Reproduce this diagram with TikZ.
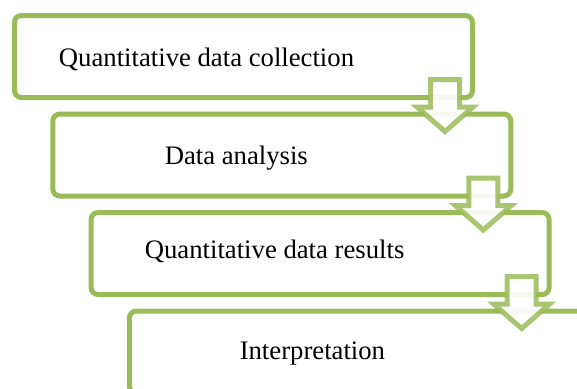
\documentclass[tikz,border=0pt]{standalone}
\usepackage{fontspec}
\setmainfont{Liberation Serif}
\usetikzlibrary{calc}
\definecolor{boxgreen}{RGB}{155, 187, 89}

\begin{document}
\begin{tikzpicture}[x=1pt, y=-1pt,
    stepbox/.style={draw=boxgreen, line width=5pt, rounded corners=7pt, minimum width=458pt, minimum height=82pt, inner sep=0pt, outer sep=0pt, anchor=north west},
    steptext/.style={anchor=base, inner sep=0pt, font=\fontsize{26.7}{30}\selectfont},
    downarrow/.style={draw=boxgreen, draw opacity=0.85, fill=white, fill opacity=0.92, line width=5pt}]
    \useasboundingbox (0,0) rectangle (577,388);
    \clip (0,0) rectangle (577,388);

    \node[stepbox] (collect) at (14.5,15.5) {};
    \node[stepbox] (analysis) at (52.8,114) {};
    \node[stepbox] (results) at (91.1,212.5) {};
    \node[stepbox] (interp) at (129.4,311) {};

    \node[steptext] (collecttext) at ([shift={(-37,51)}]collect.north) {Quantitative data collection};
    \node[steptext] (analysistext) at ([shift={(-45.5,50)}]analysis.north) {Data analysis};
    \node[steptext] (resultstext) at ([shift={(-45.5,46)}]results.north) {Quantitative data results};
    \node[steptext] (interptext) at ([shift={(-46,48.3)}]interp.north) {Interpretation};

    % block arrows between the steps
    \foreach \from in {collect, analysis, results} {
        \coordinate (a) at ([shift={(-27.5,64)}]\from.north east);
        \draw[downarrow] ($(a)+(-14.5,0)$) -- ($(a)+(14.5,0)$) -- ($(a)+(14.5,27.5)$) -- ($(a)+(28,27.5)$)
            -- ($(a)+(0,52)$) -- ($(a)+(-28,27.5)$) -- ($(a)+(-14.5,27.5)$) -- cycle;
    }
\end{tikzpicture}
\end{document}
